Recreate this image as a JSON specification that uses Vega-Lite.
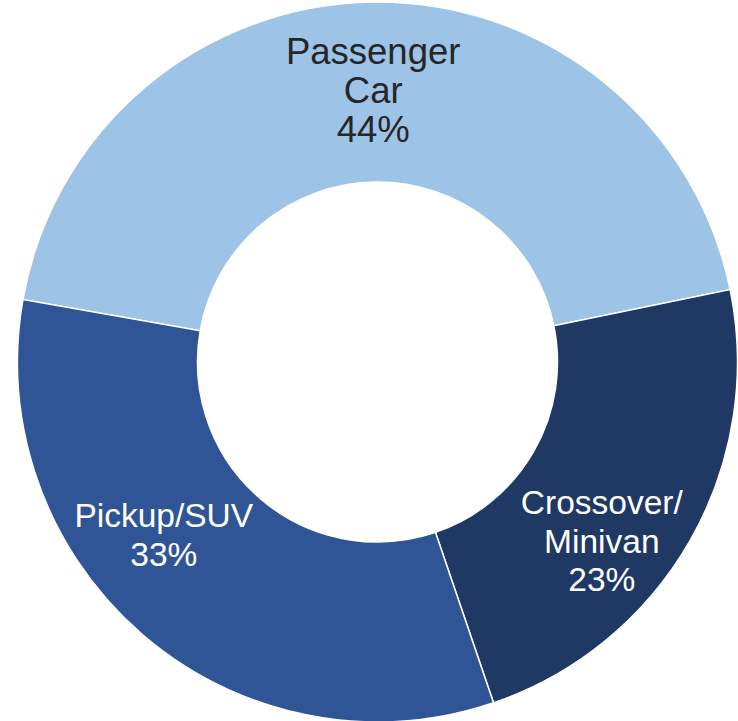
{
  "$schema": "https://vega.github.io/schema/vega-lite/v6.json",
  "autosize": "none",
  "width": 720,
  "height": 720,
  "padding": {"left": 17.5, "top": 2, "right": 0, "bottom": 0},
  "background": "white",
  "view": {"stroke": null},
  "data": {
    "values": [
      {"category": "Passenger Car", "share": 44, "order": 1, "label": "Passenger\nCar\n44%"},
      {"category": "Crossover/Minivan", "share": 23, "order": 2, "label": "Crossover/\nMinivan\n23%"},
      {"category": "Pickup/SUV", "share": 33, "order": 3, "label": "Pickup/SUV\n33%"}
    ]
  },
  "encoding": {
    "theta": {"field": "share", "type": "quantitative", "stack": true, "scale": {"range": [-1.3963, 4.8869]}},
    "order": {"field": "order", "type": "quantitative"},
    "color": {
      "field": "category",
      "type": "nominal",
      "scale": {"domain": ["Passenger Car", "Crossover/Minivan", "Pickup/SUV"], "range": ["#9DC3E6", "#203864", "#2F5597"]},
      "legend": null
    }
  },
  "layer": [
    {"mark": {"type": "arc", "innerRadius": 180, "outerRadius": 360, "stroke": "white", "strokeWidth": 1.5}},
    {
      "mark": {"type": "text", "radius": 309, "lineBreak": "\n", "font": "Liberation Sans", "fontSize": 36.5, "lineHeight": 39, "align": "center", "baseline": "middle"},
      "encoding": {
        "text": {"condition": {"test": "datum.category === 'Passenger Car'", "field": "label"}, "value": ""},
        "color": {"value": "#262626"}
      }
    },
    {
      "mark": {"type": "text", "radius": 270, "dx": -10, "dy": 8, "lineBreak": "\n", "font": "Liberation Sans", "fontSize": 33.5, "lineHeight": 38.5, "align": "center", "baseline": "middle"},
      "encoding": {
        "text": {"condition": {"test": "datum.category === 'Crossover/Minivan'", "field": "label"}, "value": ""},
        "color": {"value": "white"}
      }
    },
    {
      "mark": {"type": "text", "radius": 270, "dx": -38, "dy": -50, "lineBreak": "\n", "font": "Liberation Sans", "fontSize": 33.5, "lineHeight": 38.5, "align": "center", "baseline": "middle"},
      "encoding": {
        "text": {"condition": {"test": "datum.category === 'Pickup/SUV'", "field": "label"}, "value": ""},
        "color": {"value": "white"}
      }
    }
  ]
}
